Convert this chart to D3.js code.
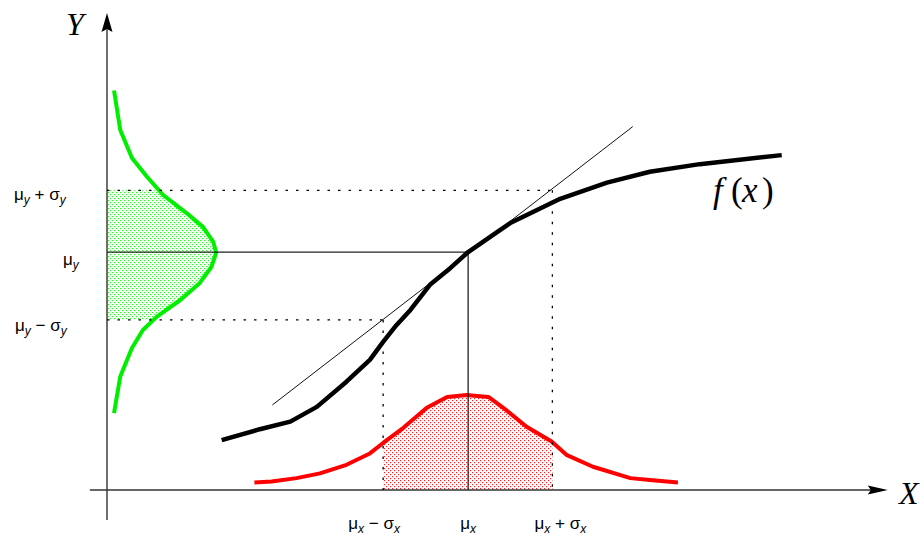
<!DOCTYPE html>
<html>
<head>
<meta charset="utf-8">
<script src="https://cdn.jsdelivr.net/npm/d3@7"></script>
<style>
  html, body { margin: 0; padding: 0; background: #fff; }
  svg { display: block; }
</style>
</head>
<body>
<svg id="chart" width="921" height="535"></svg>
<script>
// ---------------- DATA ----------------
// f(x): nonlinear transfer function
const fX = [1.47, 1.96, 2.35, 2.69, 3.07, 3.37, 3.54, 3.71, 3.89, 4.14, 4.40, 4.63, 5.01, 5.17, 5.81, 6.41, 6.96, 7.60, 8.65];
const fY = [1.05, 1.28, 1.44, 1.75, 2.28, 2.74, 3.12, 3.47, 3.79, 4.32, 4.67, 5.01, 5.44, 5.62, 6.13, 6.47, 6.70, 6.86, 7.05];
// tangent at mu_x
const tanX = [2.12, 6.74];
const tanY = [1.79, 7.65];
// input density p(x) (red)
const pxX = [1.89, 2.11, 2.43, 2.73, 3.07, 3.37, 3.54, 3.80, 4.10, 4.36, 4.61, 4.89, 5.12, 5.38, 5.70, 5.89, 6.23, 6.71, 6.96, 7.32];
const pxY = [0.16, 0.18, 0.25, 0.35, 0.53, 0.77, 0.99, 1.31, 1.73, 1.96, 2.00, 1.96, 1.68, 1.33, 1.02, 0.74, 0.49, 0.25, 0.21, 0.16];
// output density p(y) (green), horizontal
const pyDens = [0.09, 0.17, 0.32, 0.51, 0.72, 1.02, 1.23, 1.36, 1.40, 1.34, 1.19, 0.94, 0.64, 0.46, 0.32, 0.17, 0.09];
const pyY    = [8.41, 7.58, 6.99, 6.60, 6.21, 5.83, 5.54, 5.23, 5.00, 4.70, 4.36, 4.00, 3.65, 3.37, 2.99, 2.39, 1.62];
// statistics
const muX = 4.63, xLo = 3.54, xHi = 5.71;
const muY = 5.01, yHi = 6.31, yLo = 3.58;
// tick labels
const xTickValues = [xLo, muX, xHi];
const xTickLabels = ["μx − σx", "μx", "μx + σx"];
const yTickValues = [yHi, muY, yLo];
const yTickLabels = ["μy + σy", "μy", "μy − σy"];
const axisLabels = ["X", "Y"];
const curveLabel = ["f", "(", "x", ")"];

// ---------------- LAYOUT ----------------
const svg = d3.select("#chart");
const x = d3.scaleLinear().domain([0, 10]).range([107, 887]);
const y = d3.scaleLinear().domain([0, 10]).range([490, 15]);

const defs = svg.append("defs");
function dots(id, color) {
  const p = defs.append("pattern").attr("id", id)
    .attr("patternUnits", "userSpaceOnUse").attr("width", 4).attr("height", 4);
  p.append("rect").attr("x", 0).attr("y", 0).attr("width", 1.2).attr("height", 1.2).attr("fill", color);
  p.append("rect").attr("x", 2).attr("y", 2).attr("width", 1.2).attr("height", 1.2).attr("fill", color);
}
dots("redDots", "#ff2020");
dots("greenDots", "#20ff20");

defs.append("clipPath").attr("id", "clipX").append("rect")
  .attr("x", x(xLo)).attr("y", 0).attr("width", x(xHi) - x(xLo)).attr("height", y(0));
defs.append("clipPath").attr("id", "clipY").append("rect")
  .attr("x", x(0)).attr("y", y(yHi)).attr("width", 200).attr("height", y(yLo) - y(yHi));

const fData = fX.map((v, i) => [v, fY[i]]);
const pxData = pxX.map((v, i) => [v, pxY[i]]);
const pyData = pyDens.map((v, i) => [v, pyY[i]]);

// shaded areas
svg.append("path").datum(pxData)
  .attr("clip-path", "url(#clipX)")
  .attr("fill", "url(#redDots)")
  .attr("d", d3.area().x(d => x(d[0])).y0(y(0)).y1(d => y(d[1])));
svg.append("path").datum(pyData)
  .attr("clip-path", "url(#clipY)")
  .attr("fill", "url(#greenDots)")
  .attr("d", d3.area().y(d => y(d[1])).x0(x(0)).x1(d => x(d[0])));

// density curves
const line = d3.line().x(d => x(d[0])).y(d => y(d[1]));
svg.append("path").datum(pxData).attr("d", line)
  .attr("fill", "none").attr("stroke", "#ff0000").attr("stroke-width", 4).attr("stroke-linejoin", "round");
svg.append("path").datum(pyData).attr("d", line)
  .attr("fill", "none").attr("stroke", "#00ee00").attr("stroke-width", 4).attr("stroke-linejoin", "round");

// axes
const axisColor = "#333";
svg.append("line").attr("x1", x(-0.22)).attr("x2", x(9.8)).attr("y1", y(0)).attr("y2", y(0))
  .attr("stroke", axisColor).attr("stroke-width", 1.4);
svg.append("line").attr("x1", x(0)).attr("x2", x(0)).attr("y1", y(-0.63)).attr("y2", y(9.7))
  .attr("stroke", axisColor).attr("stroke-width", 1.4);
// arrowheads
const xt = [x(10.01), y(0)];
svg.append("path").attr("d", `M${xt[0]},${xt[1]} L${xt[0]-20},${xt[1]-4.5} L${xt[0]-17},${xt[1]} L${xt[0]-20},${xt[1]+4.5} Z`).attr("fill", "#000");
const yt = [x(0), y(10.04)];
svg.append("path").attr("d", `M${yt[0]},${yt[1]} L${yt[0]-5.5},${yt[1]+19} L${yt[0]},${yt[1]+16} L${yt[0]+5.5},${yt[1]+19} Z`).attr("fill", "#000");

// guide lines
const solid = { stroke: "#222", w: 1.3 };
svg.append("line").attr("x1", x(0)).attr("x2", x(muX)).attr("y1", y(muY)).attr("y2", y(muY))
  .attr("stroke", solid.stroke).attr("stroke-width", solid.w);
svg.append("line").attr("x1", x(muX)).attr("x2", x(muX)).attr("y1", y(muY)).attr("y2", y(0))
  .attr("stroke", solid.stroke).attr("stroke-width", solid.w);
const dotted = (x1, y1, x2, y2) => svg.append("line")
  .attr("x1", x(x1)).attr("y1", y(y1)).attr("x2", x(x2)).attr("y2", y(y2))
  .attr("stroke", "#000").attr("stroke-width", 1.3).attr("stroke-dasharray", "2.5,8");
dotted(0, yHi, xHi, yHi);
dotted(xHi, yHi, xHi, 0);
dotted(0, yLo, xLo, yLo);
dotted(xLo, yLo, xLo, 0);

// tangent
svg.append("line").attr("x1", x(tanX[0])).attr("y1", y(tanY[0])).attr("x2", x(tanX[1])).attr("y2", y(tanY[1]))
  .attr("stroke", "#111").attr("stroke-width", 1);

// f(x)
svg.append("path").datum(fData).attr("d", line)
  .attr("fill", "none").attr("stroke", "#000").attr("stroke-width", 4.5).attr("stroke-linejoin", "round").attr("stroke-linecap", "butt");

// ---------------- TEXT ----------------
function subLabel(sel, str) {
  const parts = [];
  for (let i = 0; i < str.length; i++) {
    const c = str[i];
    if ((c === "μ" || c === "σ") && (str[i+1] === "x" || str[i+1] === "y")) {
      parts.push({ t: c, sub: false });
      parts.push({ t: str[i+1], sub: true });
      i++;
    } else {
      const last = parts[parts.length-1];
      if (last && last.plain) last.t += c;
      else parts.push({ t: c, sub: false, plain: true });
    }
  }
  let prevSub = false;
  parts.forEach(p => {
    const ts = sel.append("tspan").text(p.t);
    if (p.sub) { ts.attr("font-size", 12).attr("dy", 4).attr("font-style", "italic"); }
    else if (prevSub) { ts.attr("dy", -4); }
    prevSub = p.sub;
  });
}
const tickFont = "'Liberation Sans', Arial, sans-serif";
const yLabelX = [14, 63, 15];
const yLabelDy = [10, 13, 11];
yTickValues.forEach((v, i) => {
  const t = svg.append("text").attr("x", yLabelX[i]).attr("y", y(v) + yLabelDy[i])
    .attr("font-family", tickFont).attr("font-size", 17).attr("fill", "#000")
    .style("white-space", "pre").attr("xml:space", "preserve");
  subLabel(t, yTickLabels[i]);
});
const xLabelDx = [-9, 0, 8];
xTickValues.forEach((v, i) => {
  const t = svg.append("text").attr("x", x(v) + xLabelDx[i]).attr("y", 529)
    .attr("text-anchor", "middle")
    .attr("font-family", tickFont).attr("font-size", 17).attr("fill", "#000")
    .style("white-space", "pre").attr("xml:space", "preserve");
  subLabel(t, xTickLabels[i]);
});

const serif = "'Liberation Serif', 'Times New Roman', serif";
svg.append("text").attr("x", 899).attr("y", 504).attr("font-family", serif).attr("font-style", "italic")
  .attr("font-size", 32).text(axisLabels[0]);
svg.append("text").attr("x", 66).attr("y", 35).attr("font-family", serif).attr("font-style", "italic")
  .attr("font-size", 32).text(axisLabels[1]);

const fl = svg.append("text").attr("y", 202).attr("font-family", serif).attr("font-size", 35);
const flX = [713, 731, 742, 762];
curveLabel.forEach((c, i) => {
  fl.append("tspan").attr("x", flX[i])
    .attr("font-style", (c === "f" || c === "x") ? "italic" : "normal").text(c);
});
</script>
</body>
</html>
